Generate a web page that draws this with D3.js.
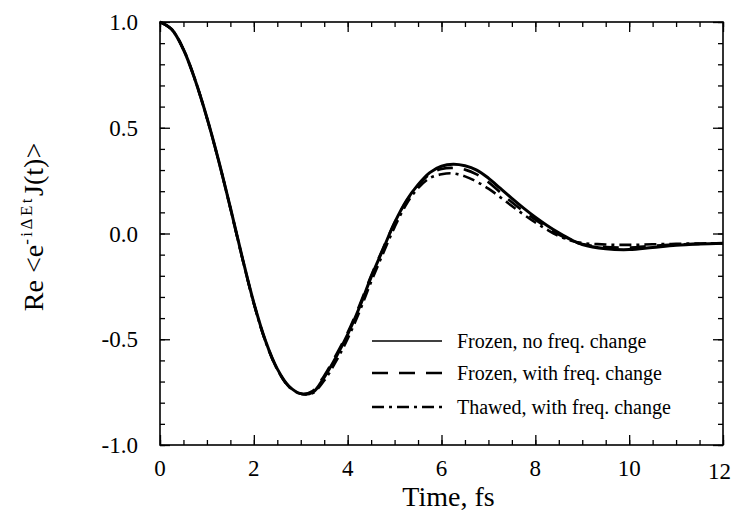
<!DOCTYPE html>
<html>
<head>
<meta charset="utf-8">
<script src="https://cdn.jsdelivr.net/npm/d3@7"></script>
<style>
    body { margin: 0; background: #fff; }
    text { font-family: "Liberation Serif", "DejaVu Serif", serif; fill: #000; }
</style>
</head>
<body>
<script>
    //time points (fs)
    var timeArr = [0, 0.25, 0.5, 0.75, 1, 1.25, 1.5, 1.75, 2, 2.25, 2.5, 2.75, 3, 3.25, 3.5, 3.75,
        4, 4.25, 4.5, 4.75, 5, 5.25, 5.5, 5.75, 6, 6.25, 6.5, 6.75, 7, 7.25, 7.5, 7.75,
        8, 8.25, 8.5, 8.75, 9, 9.5, 10, 10.5, 11, 11.5, 12];

    //Frozen, no freq. change
    var frozenNoChange = [1.0, 0.965, 0.87, 0.725, 0.548, 0.345, 0.122, -0.11, -0.328, -0.508, -0.64, -0.722, -0.757, -0.752, -0.68, -0.585,
        -0.477, -0.35, -0.206, -0.077, 0.051, 0.155, 0.231, 0.288, 0.318, 0.327, 0.32, 0.30, 0.262, 0.214, 0.166, 0.12,
        0.077, 0.038, 0.003, -0.028, -0.052, -0.072, -0.076, -0.066, -0.056, -0.05, -0.046];

    //Frozen, with freq. change
    var frozenWithChange = [1.0, 0.965, 0.87, 0.725, 0.546, 0.343, 0.12, -0.112, -0.33, -0.51, -0.642, -0.725, -0.758, -0.745, -0.672, -0.575,
        -0.468, -0.34, -0.2, -0.072, 0.05, 0.152, 0.226, 0.28, 0.305, 0.31, 0.302, 0.28, 0.243, 0.195, 0.148, 0.105,
        0.065, 0.028, -0.005, -0.032, -0.05, -0.064, -0.066, -0.058, -0.052, -0.049, -0.046];

    //Thawed, with freq. change
    var thawedWithChange = [1.0, 0.965, 0.87, 0.725, 0.546, 0.343, 0.12, -0.112, -0.331, -0.511, -0.643, -0.725, -0.758, -0.755, -0.695, -0.605,
        -0.497, -0.37, -0.228, -0.097, 0.03, 0.138, 0.215, 0.262, 0.28, 0.284, 0.27, 0.245, 0.212, 0.172, 0.13, 0.09,
        0.052, 0.018, -0.012, -0.033, -0.045, -0.052, -0.054, -0.051, -0.049, -0.047, -0.046];

    var seriesNames = ["Frozen, no freq. change", "Frozen, with freq. change", "Thawed, with freq. change"];

    //tick values and labels
    var xTicks = [0, 2, 4, 6, 8, 10, 12];
    var xTickLabels = ["0", "2", "4", "6", "8", "10", "12"];
    var yTicks = [-1, -0.5, 0, 0.5, 1];
    var yTickLabels = ["-1.0", "-0.5", "0.0", "0.5", "1.0"];

    window.onload = setChart();

    function setChart(){
        //frame dimensions
        var width = 732,
            height = 523,
            left = 160,
            right = 723,
            top = 22,
            bottom = 445;

        var svg = d3.select("body")
            .append("svg")
            .attr("width", width)
            .attr("height", height);

        var x = d3.scaleLinear().domain([0, 12]).range([left, right]);
        var y = d3.scaleLinear().domain([-1, 1]).range([bottom, top]);

        //minor + major ticks on all four sides, pointing inward
        var xMinor = d3.range(0, 12.01, 0.5),
            yMinor = d3.range(-1, 1.001, 0.1);

        function addTicks(axisGen, tr, vals, size){
            svg.append("g")
                .attr("transform", tr)
                .call(axisGen.tickValues(vals).tickSize(size).tickFormat(""))
                .call(function(g){
                    g.select(".domain").remove();
                    g.selectAll("line").attr("stroke", "#000").attr("stroke-width", 1.3);
                });
        }
        addTicks(d3.axisTop(x), "translate(0," + bottom + ")", xMinor, 5);
        addTicks(d3.axisTop(x), "translate(0," + bottom + ")", xTicks, 10);
        addTicks(d3.axisBottom(x), "translate(0," + top + ")", xMinor, 5);
        addTicks(d3.axisBottom(x), "translate(0," + top + ")", xTicks, 10);
        addTicks(d3.axisRight(y), "translate(" + left + ",0)", yMinor, 5);
        addTicks(d3.axisRight(y), "translate(" + left + ",0)", yTicks, 10);
        addTicks(d3.axisLeft(y), "translate(" + right + ",0)", yMinor, 5);
        addTicks(d3.axisLeft(y), "translate(" + right + ",0)", yTicks, 10);

        //tick labels (last one pulled in so it stays inside the page)
        svg.selectAll(".xlab")
            .data(xTicks)
            .enter()
            .append("text")
            .attr("class", "xlab")
            .attr("x", function(d, i){ return i == xTicks.length - 1 ? width - 1 : x(d); })
            .attr("y", function(d, i){ return i == xTicks.length - 1 ? bottom + 34 : bottom + 31; })
            .attr("text-anchor", function(d, i){ return i == xTicks.length - 1 ? "end" : "middle"; })
            .style("font-size", "23px")
            .text(function(d, i){ return xTickLabels[i]; });

        svg.selectAll(".ylab")
            .data(yTicks)
            .enter()
            .append("text")
            .attr("class", "ylab")
            .attr("x", left - 22)
            .attr("y", function(d){ return y(d); })
            .attr("dy", "0.35em")
            .attr("text-anchor", "end")
            .style("font-size", "23px")
            .text(function(d, i){ return yTickLabels[i]; });

        //frame
        svg.append("rect")
            .attr("x", left)
            .attr("y", top)
            .attr("width", right - left)
            .attr("height", bottom - top)
            .attr("fill", "none")
            .attr("stroke", "#000")
            .attr("stroke-width", 1.6);

        //curves
        var allSeries = [frozenNoChange, frozenWithChange, thawedWithChange];
        var dashes = [null, "16,11", "12,5,3,5"];

        var line = d3.line()
            .x(function(d){ return x(d[0]); })
            .y(function(d){ return y(d[1]); })
            .curve(d3.curveCatmullRom);

        allSeries.forEach(function(vals, k){
            var pts = timeArr.map(function(t, i){ return [t, vals[i]]; });
            svg.append("path")
                .datum(pts)
                .attr("d", line)
                .attr("fill", "none")
                .attr("stroke", "#000")
                .attr("stroke-width", k == 0 ? 3 : 2.6)
                .attr("stroke-dasharray", dashes[k]);
        });

        //legend
        var legY = [341, 373, 407];
        seriesNames.forEach(function(name, k){
            svg.append("line")
                .attr("x1", 372)
                .attr("x2", 442)
                .attr("y1", legY[k])
                .attr("y2", legY[k])
                .attr("stroke", "#000")
                .attr("stroke-width", k == 0 ? 1.6 : 2.4)
                .attr("stroke-dasharray", dashes[k]);
            svg.append("text")
                .attr("x", 457)
                .attr("y", legY[k] + 7)
                .style("font-size", "20px")
                .text(name);
        });

        //axis titles
        svg.append("text")
            .attr("x", x(6) + 7)
            .attr("y", 506)
            .attr("text-anchor", "middle")
            .style("font-size", "28px")
            .text("Time, fs");

        var yTitle = svg.append("text")
            .attr("transform", "translate(43,227) rotate(-90)")
            .attr("text-anchor", "middle")
            .style("font-size", "28px");
        yTitle.append("tspan").text("Re <e");
        yTitle.append("tspan")
            .attr("dy", -11)
            .style("font-size", "17px")
            .style("letter-spacing", "2.5px")
            .text("-iΔEt");
        yTitle.append("tspan")
            .attr("dy", 11)
            .text("J(t)>");
    };
</script>
</body>
</html>
